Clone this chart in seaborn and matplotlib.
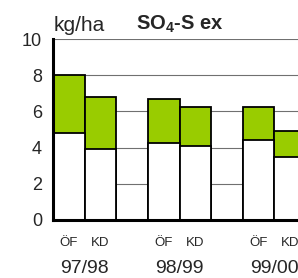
import seaborn as sns
import matplotlib.pyplot as plt
import pandas as pd

years = ['97/98', '98/99', '99/00']
sites = ['ÖF', 'KD']
# kg/ha, white lower part and total (green top) for each bar
lower = [4.8, 3.9, 4.25, 4.1, 4.4, 3.5]
total = [8.0, 6.8, 6.7, 6.25, 6.25, 4.9]
yticks = [0, 2, 4, 6, 8, 10]

green = '#99cc00'

# one empty slot between the year groups
slots = []
rows = []
i = 0
for k, yr in enumerate(years):
    for s in sites:
        name = s + ' ' + yr
        slots.append(name)
        rows.append({'slot': name, 'lower': lower[i], 'total': total[i]})
        i += 1
    if k < len(years) - 1:
        slots.append('gap%d' % k)
df = pd.DataFrame(rows)

sns.set_style('white')
plt.rcParams['font.family'] = ['Liberation Sans', 'DejaVu Sans']
plt.rcParams['mathtext.default'] = 'regular'

fig = plt.figure(figsize=(2.98, 2.78), dpi=100)
ax = fig.add_axes([53 / 298, 58 / 278, 253 / 298, 181 / 278])

sns.barplot(data=df, x='slot', y='total', order=slots, color=green,
            saturation=1, width=1.0, edgecolor='black', linewidth=1.3, ax=ax)
sns.barplot(data=df, x='slot', y='lower', order=slots, color='white',
            saturation=1, width=1.0, edgecolor='black', linewidth=1.3, ax=ax)

ax.set_xlim(-0.5, len(slots) - 0.5)
ax.set_ylim(0, 10)
ax.set_yticks(yticks)
ax.set_yticklabels([str(v) for v in yticks], fontsize=13)
ax.yaxis.grid(True, color='#707070', linewidth=0.8)
ax.set_axisbelow(True)
for sp in ['top', 'right']:
    ax.spines[sp].set_visible(False)
for sp in ['left', 'bottom']:
    ax.spines[sp].set_linewidth(2.2)
    ax.spines[sp].set_color('black')

bar_pos = [slots.index(s) for s in df['slot']]
ax.set_xticks(bar_pos)
ax.set_xticklabels([s.split(' ')[0] for s in df['slot']], fontsize=9.5)
ax.set_xticks([slots.index(sites[0] + ' ' + y) + 0.5 for y in years], minor=True)
ax.set_xticklabels(years, minor=True, fontsize=14)
ax.tick_params(axis='x', which='major', length=0, pad=12)
ax.tick_params(axis='x', which='minor', length=0, pad=29)
ax.tick_params(axis='y', length=0, pad=8)
ax.set_xlabel('')
ax.set_ylabel('')

fig.text(54 / 298, 1 - 31 / 278, 'kg/ha', fontsize=15, ha='left', va='baseline')
fig.text(136 / 298, 1 - 30 / 278, 'SO$_4$-S ex', fontsize=14.5, fontweight='bold',
         ha='left', va='baseline')

fig.savefig('out.png', dpi=100)
